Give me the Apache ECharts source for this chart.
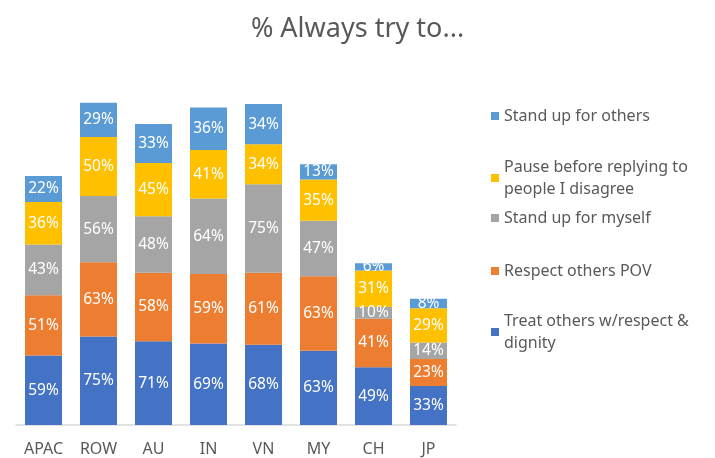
<!DOCTYPE html>
<html>
<head>
<meta charset="utf-8">
<script src="https://cdn.jsdelivr.net/npm/echarts@6/dist/echarts.min.js"></script>
<style>
  html, body { margin: 0; padding: 0; background: #fff; }
  #chart { width: 715px; height: 458px; }
</style>
</head>
<body>
<div id="chart"></div>
<script>
var categories = ['APAC', 'ROW', 'AU', 'IN', 'VN', 'MY', 'CH', 'JP'];
var treatOthers = [59, 75, 71, 69, 68, 63, 49, 33];
var respectPov = [51, 63, 58, 59, 61, 63, 41, 23];
var standMyself = [43, 56, 48, 64, 75, 47, 10, 14];
var pauseBefore = [36, 50, 45, 41, 34, 35, 31, 29];
var standOthers = [22, 29, 33, 36, 34, 13, 6, 8];

var names = [
    'Treat others w/respect &\ndignity',
    'Respect others POV',
    'Stand up for myself',
    'Pause before replying to\npeople I disagree',
    'Stand up for others'
];
var colors = ['#4472C4', '#ED7D31', '#A5A5A5', '#FFC000', '#5B9BD5'];
var values = [treatOthers, respectPov, standMyself, pauseBefore, standOthers];

// legend rows sit at uneven heights in the original
var legendTops = [305, 255, 202, 151, 100];

var font = "'Noto Sans', sans-serif";

var series = values.map(function (v, i) {
    return {
        name: names[i],
        type: 'bar',
        stack: 'all',
        barWidth: 37,
        data: v,
        itemStyle: { color: colors[i] },
        label: {
            show: true,
            position: 'inside',
            formatter: '{c}%',
            color: '#fff',
            fontFamily: font,
            fontSize: 15.5
        }
    };
});

var legends = names.map(function (n, i) {
    return {
        data: [n],
        left: 486,
        top: legendTops[i],
        orient: 'vertical',
        icon: 'rect',
        itemWidth: 8,
        itemHeight: 8,
        selectedMode: false,
        textStyle: { color: '#595959', fontFamily: font, fontSize: 16, lineHeight: 22 }
    };
});

var option = {
    animation: false,
    title: {
        text: '% Always try to...',
        left: 'center',
        top: 11,
        textStyle: { color: '#595959', fontFamily: font, fontSize: 27, fontWeight: 'normal' }
    },
    legend: legends,
    grid: { left: 16, top: 71, width: 440, bottom: 33 },
    xAxis: {
        type: 'category',
        data: categories,
        axisTick: { show: false },
        axisLine: { lineStyle: { color: '#D9D9D9', width: 1.5 } },
        axisLabel: { color: '#595959', fontFamily: font, fontSize: 16, margin: 16 }
    },
    yAxis: {
        type: 'value',
        min: 0,
        max: 300,
        show: false,
        splitLine: { show: false }
    },
    series: series
};

var chart = echarts.init(document.getElementById('chart'));
chart.setOption(option);
</script>
</body>
</html>
